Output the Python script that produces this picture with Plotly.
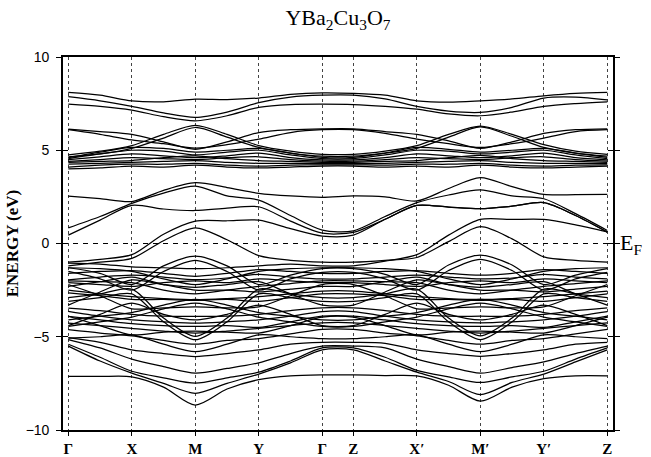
import plotly.graph_objects as go

# ---------------- k-path ----------------
kpoint_labels = ["Γ", "X", "M", "Y", "Γ", "Z", "X′", "M′", "Y′", "Z"]
segment_lengths = [1.0, 1.0, 1.0, 1.0, 0.49, 1.0, 1.0, 1.0, 1.0]
segment_has_mid = [True, True, True, True, False, True, True, True, True]

# ---------------- band energies (eV) ----------------
# samples: Γ, ΓX, X, XM, M, MY, Y, YΓ, Γ, Z, ZX', X', X'M', M', M'Y', Y', Y'Z, Z
u1 = [8.10, 7.95, 7.65, 7.60, 7.74, 7.72, 7.80, 8.00, 8.08, 8.05, 7.95, 7.65, 7.58, 7.65, 7.75, 7.92, 8.05, 8.10]
u2 = [7.87, 7.65, 7.35, 7.00, 6.76, 7.05, 7.55, 7.85, 7.95, 7.95, 7.75, 7.35, 7.10, 7.03, 7.30, 7.80, 7.85, 7.70]
u3 = [7.47, 7.35, 7.15, 6.80, 6.58, 6.85, 7.30, 7.45, 7.47, 7.45, 7.35, 7.20, 6.95, 6.85, 7.05, 7.35, 7.50, 7.60]
s1 = [6.13, 6.00, 5.85, 5.45, 5.05, 5.45, 5.95, 6.10, 6.15, 6.15, 6.00, 5.85, 5.50, 5.10, 5.45, 5.90, 6.10, 6.15]
s2 = [6.10, 5.85, 5.55, 5.35, 5.12, 5.30, 5.60, 5.95, 6.10, 6.10, 5.90, 5.60, 5.35, 5.15, 5.35, 5.65, 6.00, 6.10]
s3 = [4.75, 4.95, 5.25, 5.85, 6.34, 5.85, 5.25, 4.95, 4.78, 4.78, 4.95, 5.25, 5.85, 6.30, 5.85, 5.30, 4.95, 4.78]
s4 = [4.65, 4.80, 5.10, 5.65, 6.22, 5.70, 5.15, 4.85, 4.68, 4.68, 4.85, 5.10, 5.70, 6.25, 5.75, 5.15, 4.85, 4.68]
p1 = [4.60, 4.90, 5.15, 5.10, 4.90, 5.00, 5.10, 4.85, 4.62, 4.62, 4.85, 5.15, 5.05, 4.90, 5.00, 5.10, 4.85, 4.62]
p2 = [4.55, 4.80, 5.00, 4.95, 4.75, 4.90, 5.00, 4.75, 4.55, 4.55, 4.75, 5.00, 4.95, 4.80, 4.90, 5.00, 4.75, 4.55]
p3 = [4.50, 4.65, 4.80, 4.70, 4.60, 4.70, 4.85, 4.60, 4.48, 4.48, 4.60, 4.80, 4.70, 4.60, 4.70, 4.85, 4.60, 4.48]
p4 = [4.40, 4.50, 4.60, 4.55, 4.50, 4.60, 4.65, 4.50, 4.42, 4.42, 4.50, 4.60, 4.55, 4.50, 4.60, 4.65, 4.50, 4.42]
p5 = [4.35, 4.40, 4.45, 4.60, 4.70, 4.55, 4.45, 4.40, 4.35, 4.35, 4.40, 4.45, 4.60, 4.72, 4.55, 4.45, 4.40, 4.35]
p6 = [4.25, 4.30, 4.35, 4.40, 4.45, 4.35, 4.30, 4.30, 4.28, 4.28, 4.30, 4.35, 4.40, 4.45, 4.35, 4.30, 4.30, 4.28]
p7 = [4.10, 4.20, 4.25, 4.25, 4.30, 4.20, 4.15, 4.20, 4.22, 4.22, 4.20, 4.25, 4.25, 4.30, 4.20, 4.15, 4.20, 4.22]
p8 = [4.00, 4.05, 4.15, 4.10, 4.20, 4.10, 4.05, 4.10, 4.15, 4.15, 4.10, 4.15, 4.10, 4.20, 4.10, 4.05, 4.10, 4.15]
c1 = [2.54, 2.40, 2.25, 2.85, 3.26, 3.00, 2.69, 2.55, 2.48, 2.55, 2.50, 2.28, 2.95, 3.53, 3.05, 2.63, 2.62, 2.63]
c2 = [0.84, 1.45, 2.15, 2.70, 3.08, 2.55, 2.33, 1.50, 0.72, 0.68, 1.45, 2.19, 2.60, 2.87, 2.55, 2.40, 1.60, 0.70]
c3 = [0.45, 1.25, 2.05, 1.85, 1.77, 1.90, 1.97, 1.20, 0.55, 0.60, 1.30, 2.04, 1.95, 1.87, 2.00, 2.19, 1.50, 0.61]
d1 = [-1.00, -0.85, -0.60, 0.50, 1.20, 1.22, 1.25, 0.80, 0.40, 0.45, 1.30, 2.04, 1.95, 1.87, 2.00, 2.19, 1.50, 0.61]
d2 = [-1.20, -1.00, -0.80, 0.15, 0.84, 0.20, -0.65, -0.90, -1.00, -1.00, -0.90, -0.75, 0.10, 0.90, 0.25, -0.72, -0.90, -1.00]
v2 = [-1.30, -1.60, -2.20, -1.20, -0.68, -1.20, -2.20, -1.70, -1.35, -1.35, -1.65, -2.20, -1.15, -0.62, -1.15, -2.20, -1.70, -1.35]
v3 = [-1.50, -1.90, -2.50, -1.50, -0.90, -1.50, -2.50, -1.90, -1.55, -1.55, -1.90, -2.50, -1.45, -0.85, -1.45, -2.50, -1.90, -1.55]
v4 = [-1.05, -1.10, -1.25, -1.30, -1.35, -1.30, -1.20, -1.10, -1.20, -1.20, -0.95, -0.60, 0.45, 1.29, 1.29, 1.29, 1.00, 0.62]
v5 = [-1.60, -1.50, -1.45, -1.60, -1.76, -1.60, -1.40, -1.50, -1.60, -1.60, -1.50, -1.45, -1.60, -1.70, -1.60, -1.40, -1.50, -1.60]
v6 = [-1.95, -1.80, -1.70, -1.80, -1.94, -1.85, -1.65, -1.80, -1.90, -1.90, -1.80, -1.70, -1.80, -1.90, -1.85, -1.65, -1.80, -1.90]
v7 = [-2.10, -2.20, -2.30, -2.10, -2.00, -2.10, -1.90, -2.00, -2.10, -2.10, -2.20, -2.30, -2.10, -2.00, -2.10, -1.90, -2.00, -2.10]
v8 = [-2.30, -2.05, -1.80, -2.20, -2.50, -2.50, -2.60, -2.45, -2.30, -2.30, -2.05, -1.80, -2.20, -2.50, -2.50, -2.60, -2.45, -2.30]
v9 = [-2.50, -2.70, -2.85, -2.95, -3.01, -2.95, -2.85, -2.70, -2.55, -2.55, -2.70, -2.85, -2.95, -3.00, -2.95, -2.85, -2.70, -2.55]
v10 = [-2.65, -2.80, -3.00, -3.00, -3.05, -3.00, -3.10, -2.90, -2.70, -2.70, -2.80, -3.00, -3.00, -3.05, -3.00, -3.10, -2.90, -2.70]
v11 = [-2.90, -2.70, -2.45, -4.00, -4.98, -4.00, -2.45, -2.70, -2.90, -2.90, -2.70, -2.45, -4.00, -4.95, -4.00, -2.45, -2.70, -2.90]
v12 = [-3.10, -2.90, -2.70, -4.20, -5.16, -4.20, -2.70, -2.90, -3.10, -3.10, -2.90, -2.70, -4.20, -5.15, -4.20, -2.70, -2.90, -3.10]
v13 = [-3.30, -2.60, -1.95, -2.20, -2.35, -2.20, -2.05, -2.70, -3.30, -3.30, -2.60, -1.95, -2.20, -2.35, -2.20, -2.05, -2.70, -3.30]
v14 = [-3.46, -3.60, -3.80, -3.90, -3.91, -3.90, -3.80, -3.60, -3.45, -3.45, -3.60, -3.80, -3.90, -3.90, -3.90, -3.80, -3.60, -3.45]
v15 = [-3.64, -3.90, -4.10, -4.20, -4.27, -4.20, -4.10, -3.90, -3.65, -3.65, -3.90, -4.10, -4.20, -4.25, -4.20, -4.10, -3.90, -3.65]
v16 = [-3.91, -4.10, -4.30, -4.40, -4.45, -4.40, -4.50, -4.20, -3.90, -3.90, -4.10, -4.30, -4.40, -4.45, -4.40, -4.50, -4.20, -3.90]
v17 = [-4.09, -3.90, -3.70, -3.30, -3.00, -3.30, -3.70, -3.90, -4.10, -4.10, -3.90, -3.70, -3.30, -3.00, -3.30, -3.70, -3.90, -4.10]
v18 = [-4.27, -4.40, -4.55, -4.70, -4.80, -4.70, -4.55, -4.40, -4.25, -4.25, -4.40, -4.55, -4.70, -4.80, -4.70, -4.55, -4.40, -4.25]
v19 = [-4.44, -4.20, -3.95, -3.50, -3.20, -3.50, -3.95, -4.20, -4.45, -4.45, -4.20, -3.95, -3.50, -3.20, -3.50, -3.95, -4.20, -4.45]
v20 = [-4.62, -4.80, -4.95, -5.20, -5.40, -5.20, -5.10, -4.85, -4.60, -4.60, -4.80, -4.95, -5.20, -5.40, -5.20, -5.10, -4.85, -4.60]
v21 = [-5.07, -5.00, -4.90, -5.40, -5.80, -5.40, -4.90, -5.00, -5.10, -5.10, -5.00, -4.90, -5.40, -5.80, -5.40, -4.90, -5.00, -5.10]
v22 = [-1.30, -1.35, -1.50, -1.90, -2.20, -1.90, -1.50, -1.35, -1.30, -1.30, -1.35, -1.50, -1.90, -2.20, -1.90, -1.50, -1.35, -1.30]
v23 = [-2.00, -2.05, -2.10, -2.50, -2.70, -2.50, -2.30, -2.15, -2.00, -2.00, -2.05, -2.10, -2.50, -2.70, -2.50, -2.30, -2.15, -2.00]
v24 = [-2.20, -2.80, -3.50, -3.45, -3.40, -3.45, -3.40, -2.80, -2.20, -2.20, -2.80, -3.50, -3.45, -3.40, -3.45, -3.40, -2.80, -2.20]
v25 = [-4.40, -3.80, -3.20, -3.80, -4.10, -3.80, -3.30, -3.80, -4.40, -4.40, -3.80, -3.20, -3.80, -4.10, -3.80, -3.30, -3.80, -4.40]
v26 = [-3.90, -4.40, -4.90, -4.75, -4.70, -4.75, -4.80, -4.40, -3.95, -3.95, -4.40, -4.90, -4.75, -4.70, -4.75, -4.80, -4.40, -3.95]
w1 = [-7.13, -7.13, -7.15, -7.70, -8.66, -7.80, -7.30, -7.10, -7.05, -7.05, -7.08, -7.10, -7.60, -8.45, -7.70, -7.25, -7.10, -7.10]
w2 = [-5.50, -6.30, -6.95, -7.50, -8.03, -7.50, -7.00, -6.40, -5.70, -5.70, -6.30, -6.90, -7.40, -8.10, -7.45, -7.00, -6.35, -5.70]
w3 = [-5.40, -6.10, -6.85, -7.20, -7.49, -7.20, -6.90, -6.30, -5.60, -5.60, -6.10, -6.80, -7.15, -7.45, -7.15, -6.85, -6.20, -5.60]
w4 = [-5.15, -5.60, -6.20, -6.60, -6.95, -6.70, -6.40, -5.90, -5.50, -5.50, -5.60, -6.20, -6.60, -6.95, -6.65, -6.35, -5.90, -5.50]
w5 = [-5.05, -5.30, -5.70, -5.90, -6.06, -5.90, -5.70, -5.40, -5.30, -5.30, -5.35, -5.70, -5.90, -6.05, -5.90, -5.70, -5.40, -5.30]

bands = [u1, u2, u3, s1, s2, s3, s4, p1, p2, p3, p4, p5, p6, p7, p8,
         c1, c2, c3, d1, d2,
         v2, v3, v4, v5, v6, v7, v8, v9, v10, v11, v12, v13, v14, v15, v16,
         v17, v18, v19, v20, v21, v22, v23, v24, v25, v26,
         w1, w2, w3, w4, w5]

energy_ticks = [-10, -5, 0, 5, 10]

# ---------------- derived k coordinates ----------------
kpos = [0.0]
for L in segment_lengths:
    kpos.append(kpos[-1] + L)
ksample = []
for i, L in enumerate(segment_lengths):
    ksample.append(kpos[i])
    if segment_has_mid[i]:
        ksample.append(kpos[i] + L / 2)
ksample.append(kpos[-1])

xrange = [-0.084, kpos[-1] + 0.09]

fig = go.Figure()
for b in bands:
    fig.add_trace(go.Scatter(
        x=ksample, y=b, mode="lines",
        line=dict(color="black", width=1.25, shape="spline", smoothing=0.8),
        hoverinfo="skip", showlegend=False))

# helper (empty) trace so the inner-tick axes are drawn
fig.add_trace(go.Scatter(x=[None], y=[None], xaxis="x2", yaxis="y2",
                         mode="lines", showlegend=False, hoverinfo="skip"))

fig.add_shape(type="line", xref="paper", x0=0, x1=1, yref="y", y0=0, y1=0,
              line=dict(color="black", width=1, dash="5px,5px"))

fig.add_annotation(text="E<sub>F</sub>", xref="paper", x=1.0, xanchor="left",
                   xshift=5, yref="y", y=0, yanchor="middle", showarrow=False,
                   font=dict(family="Liberation Serif", size=22, color="black"))

fig.update_layout(
    width=651, height=457,
    margin=dict(l=63, r=38, t=57, b=27),
    paper_bgcolor="white", plot_bgcolor="white",
    title=dict(text="YBa<sub>2</sub>Cu<sub>3</sub>O<sub>7</sub>",
               x=0.5, xref="paper", xanchor="center",
               y=0.962, yref="container", yanchor="middle",
               font=dict(family="Liberation Serif", size=22, color="black")),
    xaxis=dict(range=xrange, tickmode="array", tickvals=kpos,
               ticktext=["<b>" + t + "</b>" for t in kpoint_labels],
               showgrid=True, gridcolor="#444", gridwidth=1, griddash="dot",
               zeroline=False, showline=True, linecolor="black", linewidth=1.6,
               mirror=True, ticks="outside", ticklen=4, tickcolor="black",
               ticklabelstandoff=0, automargin=False,
               tickfont=dict(family="Liberation Serif", size=15, color="black")),
    yaxis=dict(range=[-10, 10], tickmode="array", tickvals=energy_ticks,
               showgrid=False, zeroline=False, showline=True, linecolor="black",
               linewidth=1.6, mirror="allticks", ticks="outside", ticklen=5,
               tickwidth=1.3, tickcolor="black", ticklabelstandoff=4,
               automargin=False,
               tickfont=dict(family="Liberation Sans", size=14, color="black"),
               title=dict(text="<b>ENERGY (eV)</b>", standoff=3,
                          font=dict(family="Liberation Serif", size=17, color="black"))),
    xaxis2=dict(overlaying="x", range=xrange, visible=False),
    yaxis2=dict(overlaying="y", range=[-10, 10], tickmode="array", tickvals=energy_ticks,
                ticks="inside", ticklen=5, tickwidth=1.3, tickcolor="black",
                mirror="allticks", showticklabels=False, showgrid=False,
                zeroline=False, showline=False),
)

fig.write_html("out.html")
